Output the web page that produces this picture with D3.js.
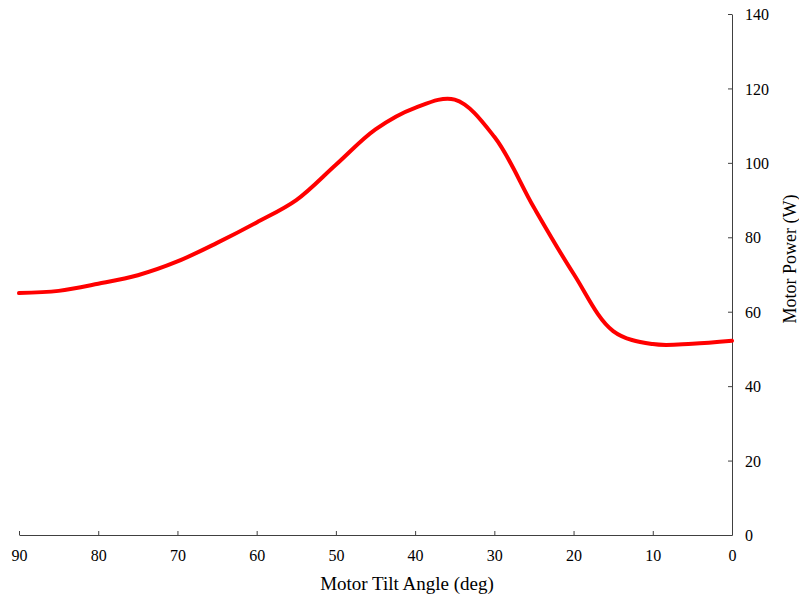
<!DOCTYPE html>
<html>
<head>
<meta charset="utf-8">
<script src="https://cdn.jsdelivr.net/npm/d3@7"></script>
<style>
body { margin: 0; background: #fff; }
text { font-family: "Liberation Serif", "Times New Roman", serif; fill: #000; }
</style>
</head>
<body>
<svg id="chart"></svg>
<script>
// tilt angle (deg) and measured motor power (W)
var angles = [90, 85, 80, 75, 70, 65, 60, 55, 50, 45, 40, 35, 30, 25, 20, 15, 10, 5, 0];
var power = [65.0, 65.6, 67.5, 69.8, 73.5, 78.5, 84.0, 90.0, 99.5, 109.0, 114.8, 117.0, 107.0, 88.0, 70.2, 54.8, 51.3, 51.4, 52.2];
var xTicks = [90, 80, 70, 60, 50, 40, 30, 20, 10, 0];
var yTicks = [0, 20, 40, 60, 80, 100, 120, 140];

var width = 799, height = 597;
var plotLeft = 19, plotRight = 732, plotTop = 14, plotBottom = 535;

var svg = d3.select("#chart")
    .attr("width", width)
    .attr("height", height);

var x = d3.scaleLinear().domain([90, 0]).range([plotLeft, plotRight]);
var y = d3.scaleLinear().domain([0, 140]).range([plotBottom, plotTop]);

var data = angles.map(function(a, i) { return {a: a, p: power[i]}; });

// x axis, ticks point up into the plot
var xAxis = svg.append("g")
    .attr("transform", "translate(0," + plotBottom + ")")
    .call(d3.axisTop(x).tickValues(xTicks).tickSize(4).tickSizeOuter(0));
xAxis.selectAll("text").remove();
xAxis.selectAll(".tick").append("text")
    .attr("y", 26)
    .attr("text-anchor", "middle")
    .style("font-size", "16px")
    .text(function(d) { return d; });

// y axis on the right, ticks point left
var yAxis = svg.append("g")
    .attr("transform", "translate(" + plotRight + ",0)")
    .call(d3.axisLeft(y).tickValues(yTicks).tickSize(4).tickSizeOuter(0));
yAxis.selectAll("text").remove();
yAxis.selectAll(".tick").append("text")
    .attr("x", 13)
    .attr("dy", "0.35em")
    .attr("text-anchor", "start")
    .style("font-size", "16px")
    .text(function(d) { return d; });

svg.selectAll(".domain, .tick line")
    .attr("stroke", "#404040")
    .attr("stroke-width", 1);

var line = d3.line()
    .x(function(d) { return x(d.a); })
    .y(function(d) { return y(d.p); })
    .curve(d3.curveCatmullRom.alpha(0.5));

svg.append("path")
    .datum(data)
    .attr("d", line)
    .attr("fill", "none")
    .attr("stroke", "#ff0000")
    .attr("stroke-width", 4)
    .attr("stroke-linecap", "round");

svg.append("text")
    .attr("x", 407)
    .attr("y", 590)
    .attr("text-anchor", "middle")
    .style("font-size", "19px")
    .text("Motor Tilt Angle (deg)");

svg.append("text")
    .attr("transform", "translate(796,259) rotate(-90)")
    .attr("text-anchor", "middle")
    .style("font-size", "18px")
    .text("Motor Power (W)");
</script>
</body>
</html>
